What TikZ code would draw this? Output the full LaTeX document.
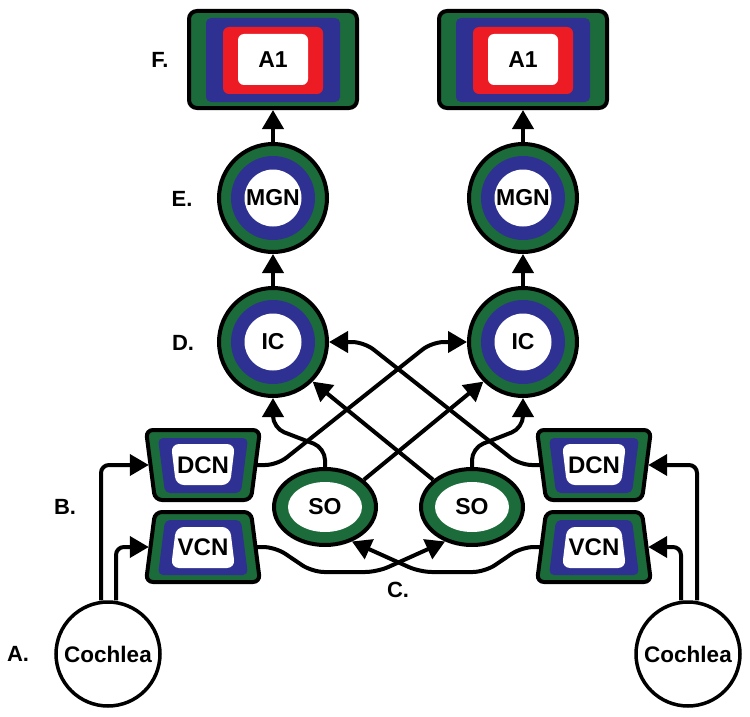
\documentclass[tikz,border=0pt]{standalone}
\usepackage{fontspec}
\setmainfont{Liberation Sans}
\usetikzlibrary{arrows.meta,calc,shapes.geometric}
\definecolor{ngreen}{RGB}{28,107,58}
\definecolor{nblue}{RGB}{46,49,146}
\definecolor{nred}{RGB}{237,28,36}
\tikzset{
  lbl/.style={font=\fontsize{22}{22}\selectfont\bfseries, inner sep=0},
  ntext/.style={font=\fontsize{23}{23}\selectfont\bfseries, inner sep=0},
  ring/.style={circle, draw, line width=4pt, fill=ngreen, minimum size=108pt, inner sep=0},
  arr/.style={line width=4pt, -{Triangle[length=19pt,width=21pt]}},
  conn/.style={arr, rounded corners=12pt},
  dcnshape/.pic={
    \draw[line width=4pt, fill=ngreen, rounded corners=7pt] (0,-35) -- (57,-35) -- (48,35) -- (-48,35) -- (-57,-35) -- cycle;
    \fill[nblue, rounded corners=5pt] (0,-27) -- (45,-27) -- (38,28) -- (-38,28) -- (-45,-27) -- cycle;
    \fill[white, rounded corners=8pt] (0,-21) -- (32,-21) -- (27,20) -- (-27,20) -- (-32,-21) -- cycle;
  },
  vcnshape/.pic={
    \draw[line width=4pt, fill=ngreen, rounded corners=7pt] (0,-35) -- (48,-35) -- (57,35) -- (-57,35) -- (-48,-35) -- cycle;
    \fill[nblue, rounded corners=5pt] (0,-27) -- (38,-27) -- (45,28) -- (-45,28) -- (-38,-27) -- cycle;
    \fill[white, rounded corners=8pt] (0,-20) -- (27,-20) -- (32,21) -- (-32,21) -- (-27,-20) -- cycle;
  }
}
\begin{document}
\begin{tikzpicture}[x=1pt,y=-1pt]
\useasboundingbox (0,0) rectangle (750,717);

% A1 boxes
\foreach \n/\cx in {lA1/273, rA1/523} {
  \node[draw, line width=4pt, fill=ngreen, rounded corners=8pt, minimum width=168pt, minimum height=97pt, inner sep=0] (\n) at (\cx,59.5) {};
  \fill[nblue, rounded corners=5pt] (\cx-67,18) rectangle (\cx+67,102);
  \fill[nred, rounded corners=6pt] (\cx-50,27) rectangle (\cx+50,94);
  \fill[white, rounded corners=6pt] (\cx-35,34) rectangle (\cx+35,85);
  \node[ntext] at (\cx,60) {A1};
}

% MGN and IC rings
\foreach \n/\cx/\cy/\t in {lMGN/273/198/MGN, rMGN/523/198/MGN, lIC/273/342/IC, rIC/523/342/IC} {
  \node[ring] (\n) at (\cx,\cy) {};
  \fill[nblue] (\cx,\cy) circle[radius=42];
  \node[circle, fill=white, minimum size=57pt, ntext] at (\cx,\cy) {\t};
}

% DCN / VCN
\pic at (203,465) {dcnshape};
\pic at (594,465) {dcnshape};
\pic at (203,547) {vcnshape};
\pic at (594,547) {vcnshape};
\node[ntext, font=\fontsize{24}{24}\selectfont\bfseries, minimum width=108pt, minimum height=60pt] (lDCN) at (203,465) {DCN};
\node[ntext, font=\fontsize{24}{24}\selectfont\bfseries, minimum width=108pt, minimum height=60pt] (rDCN) at (594,465) {DCN};
\node[ntext, font=\fontsize{24}{24}\selectfont\bfseries, minimum width=108pt, minimum height=60pt] (lVCN) at (203,547) {VCN};
\node[ntext, font=\fontsize{24}{24}\selectfont\bfseries, minimum width=108pt, minimum height=60pt] (rVCN) at (594,547) {VCN};

% SO
\foreach \n/\cx in {lSO/325, rSO/472} {
  \node[ellipse, draw, line width=4pt, fill=ngreen, minimum width=102pt, minimum height=76pt, inner sep=0] (\n) at (\cx,507) {};
  \node[ellipse, fill=white, minimum width=74pt, minimum height=50pt, ntext] at (\cx,507) {SO};
}

% Cochleae
\node[circle, draw, line width=3.5pt, minimum size=104pt, inner sep=0, font=\fontsize{22.5}{22.5}\selectfont\bfseries] (lCoch) at (108,654) {Cochlea};
\node[circle, draw, line width=3.5pt, minimum size=104pt, inner sep=0, font=\fontsize{22.5}{22.5}\selectfont\bfseries] (rCoch) at (688,654) {Cochlea};

% labels
\node[lbl] at (160,60) {F.};
\node[lbl] at (182,199) {E.};
\node[lbl] at (183,343) {D.};
\node[lbl] at (65,507) {B.};
\node[lbl] at (18,654) {A.};
\node[lbl] at (398,590) {C.};

% vertical arrows
\draw[arr] (lIC.north) -- (lMGN.south);
\draw[arr] (rIC.north) -- (rMGN.south);
\draw[arr] (lMGN.north) -- (lA1.south);
\draw[arr] (rMGN.north) -- (rA1.south);

% cochlea to nuclei
\draw[arr, rounded corners=8pt] ([xshift=-7pt]lCoch.north) |- (lDCN.west);
\draw[arr, rounded corners=8pt] ([xshift=8pt]lCoch.north) |- (lVCN.west);
\draw[arr, rounded corners=8pt] ([xshift=9pt]rCoch.north) |- (rDCN.east);
\draw[arr, rounded corners=8pt] ([xshift=-7pt]rCoch.north) |- (rVCN.east);

% DCN to contralateral IC
\draw[conn] (lDCN.east) -- ($(lDCN.east)+(20,0)$) -- ($(rIC.west)+(-35,0)$) -- (rIC.west);
\draw[conn] (rDCN.west) -- ($(rDCN.west)+(-20,0)$) -- ($(lIC.east)+(35,0)$) -- (lIC.east);

% SO to ipsilateral IC
\draw[conn] (lSO.north) -- ($(lSO.north)+(0,-19)$) -- ($(lIC.south)+(0,30)$) -- (lIC.south);
\draw[conn] (rSO.north) -- ($(rSO.north)+(0,-19)$) -- ($(rIC.south)+(0,30)$) -- (rIC.south);

% SO to contralateral IC
\draw[arr] (lSO.35) -- (rIC.225);
\draw[arr] (rSO.145) -- (lIC.-45);

% VCN to contralateral SO
\draw[conn] (lVCN.east) -- ($(lVCN.east)+(18,0)$) -- ($(lVCN.east)+(55,25)$) -- ($(lVCN.east)+(120,25)$) -- (rSO.232);
\draw[conn] (rVCN.west) -- ($(rVCN.west)+(-18,0)$) -- ($(rVCN.west)+(-55,25)$) -- ($(rVCN.west)+(-120,25)$) -- (lSO.308);
\end{tikzpicture}
\end{document}
